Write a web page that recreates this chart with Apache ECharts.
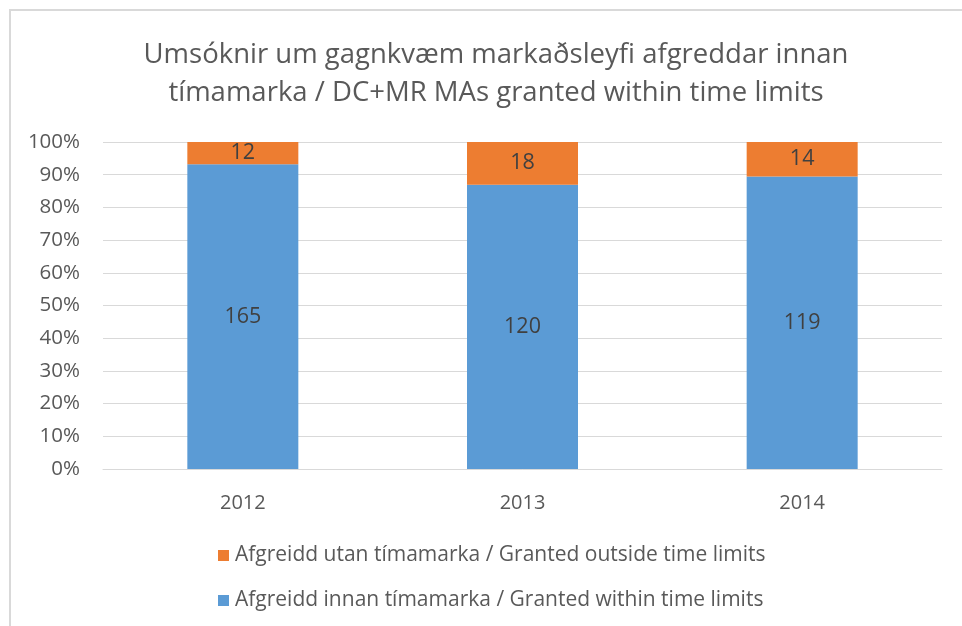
<!DOCTYPE html>
<html>
<head>
<meta charset="utf-8">
<script src="https://cdn.jsdelivr.net/npm/echarts@6/dist/echarts.min.js"></script>
<style>
  html, body { margin: 0; padding: 0; background: #fff; }
  #chart { width: 962px; height: 626px; }
</style>
</head>
<body>
<div id="chart"></div>
<script>
var years = ['2012', '2013', '2014'];
var innan = [165, 120, 119];
var utan = [12, 18, 14];
var nameInnan = 'Afgreidd innan tímamarka / Granted within time limits';
var nameUtan = 'Afgreidd utan tímamarka / Granted outside time limits';
var yTicks = ['0%', '10%', '20%', '30%', '40%', '50%', '60%', '70%', '80%', '90%', '100%'];

// share of each year's total, in percent
var pctInnan = innan.map(function (v, i) { return v / (v + utan[i]) * 100; });
var pctUtan = utan.map(function (v, i) { return v / (innan[i] + v) * 100; });

var font = 'Open Sans';
var chart = echarts.init(document.getElementById('chart'));
chart.setOption({
  animation: false,
  textStyle: { fontFamily: font },
  graphic: [{
    type: 'rect',
    shape: { x: 10, y: 10, width: 960, height: 630 },
    style: { fill: 'none', stroke: '#d9d9d9', lineWidth: 2 },
    silent: true
  }],
  title: {
    text: 'Umsóknir um gagnkvæm markaðsleyfi afgreddar innan\ntímamarka / DC+MR MAs granted within time limits',
    left: 491,
    textAlign: 'center',
    top: 31,
    textStyle: { fontFamily: font, fontSize: 27.5, fontWeight: 'normal', color: '#595959', lineHeight: 38 }
  },
  legend: {
    orient: 'vertical',
    left: 213,
    top: 540,
    itemGap: 24,
    itemWidth: 11,
    itemHeight: 11,
    icon: 'rect',
    data: [nameUtan, nameInnan],
    textStyle: { fontFamily: font, fontSize: 21, color: '#595959', padding: [0, 0, 0, 1] }
  },
  grid: { left: 103, right: 20, top: 142, bottom: 157 },
  xAxis: {
    type: 'category',
    data: years,
    axisLine: { show: true, lineStyle: { color: '#d9d9d9' } },
    axisTick: { show: false },
    axisLabel: { fontFamily: font, fontSize: 20, color: '#595959', margin: 24 }
  },
  yAxis: {
    type: 'value',
    min: 0,
    max: 100,
    interval: 10,
    axisLine: { show: false },
    axisTick: { show: false },
    splitLine: { lineStyle: { color: '#d9d9d9', width: 1 } },
    axisLabel: {
      fontFamily: font, fontSize: 20.5, color: '#595959', margin: 23,
      formatter: function (v) { return yTicks[Math.round(v / 10)]; }
    }
  },
  series: [{
    name: nameInnan,
    type: 'bar',
    stack: 'all',
    barWidth: 111,
    data: pctInnan,
    itemStyle: { color: '#5b9bd5' },
    label: {
      show: true, position: 'inside', fontFamily: font, fontSize: 21.5, color: '#404040',
      formatter: function (p) { return innan[p.dataIndex]; }
    }
  }, {
    name: nameUtan,
    type: 'bar',
    stack: 'all',
    barWidth: 111,
    data: pctUtan,
    itemStyle: { color: '#ed7d31' },
    label: {
      show: true, position: 'inside', fontFamily: font, fontSize: 21.5, color: '#404040',
      formatter: function (p) { return utan[p.dataIndex]; }
    }
  }]
});
</script>
</body>
</html>
